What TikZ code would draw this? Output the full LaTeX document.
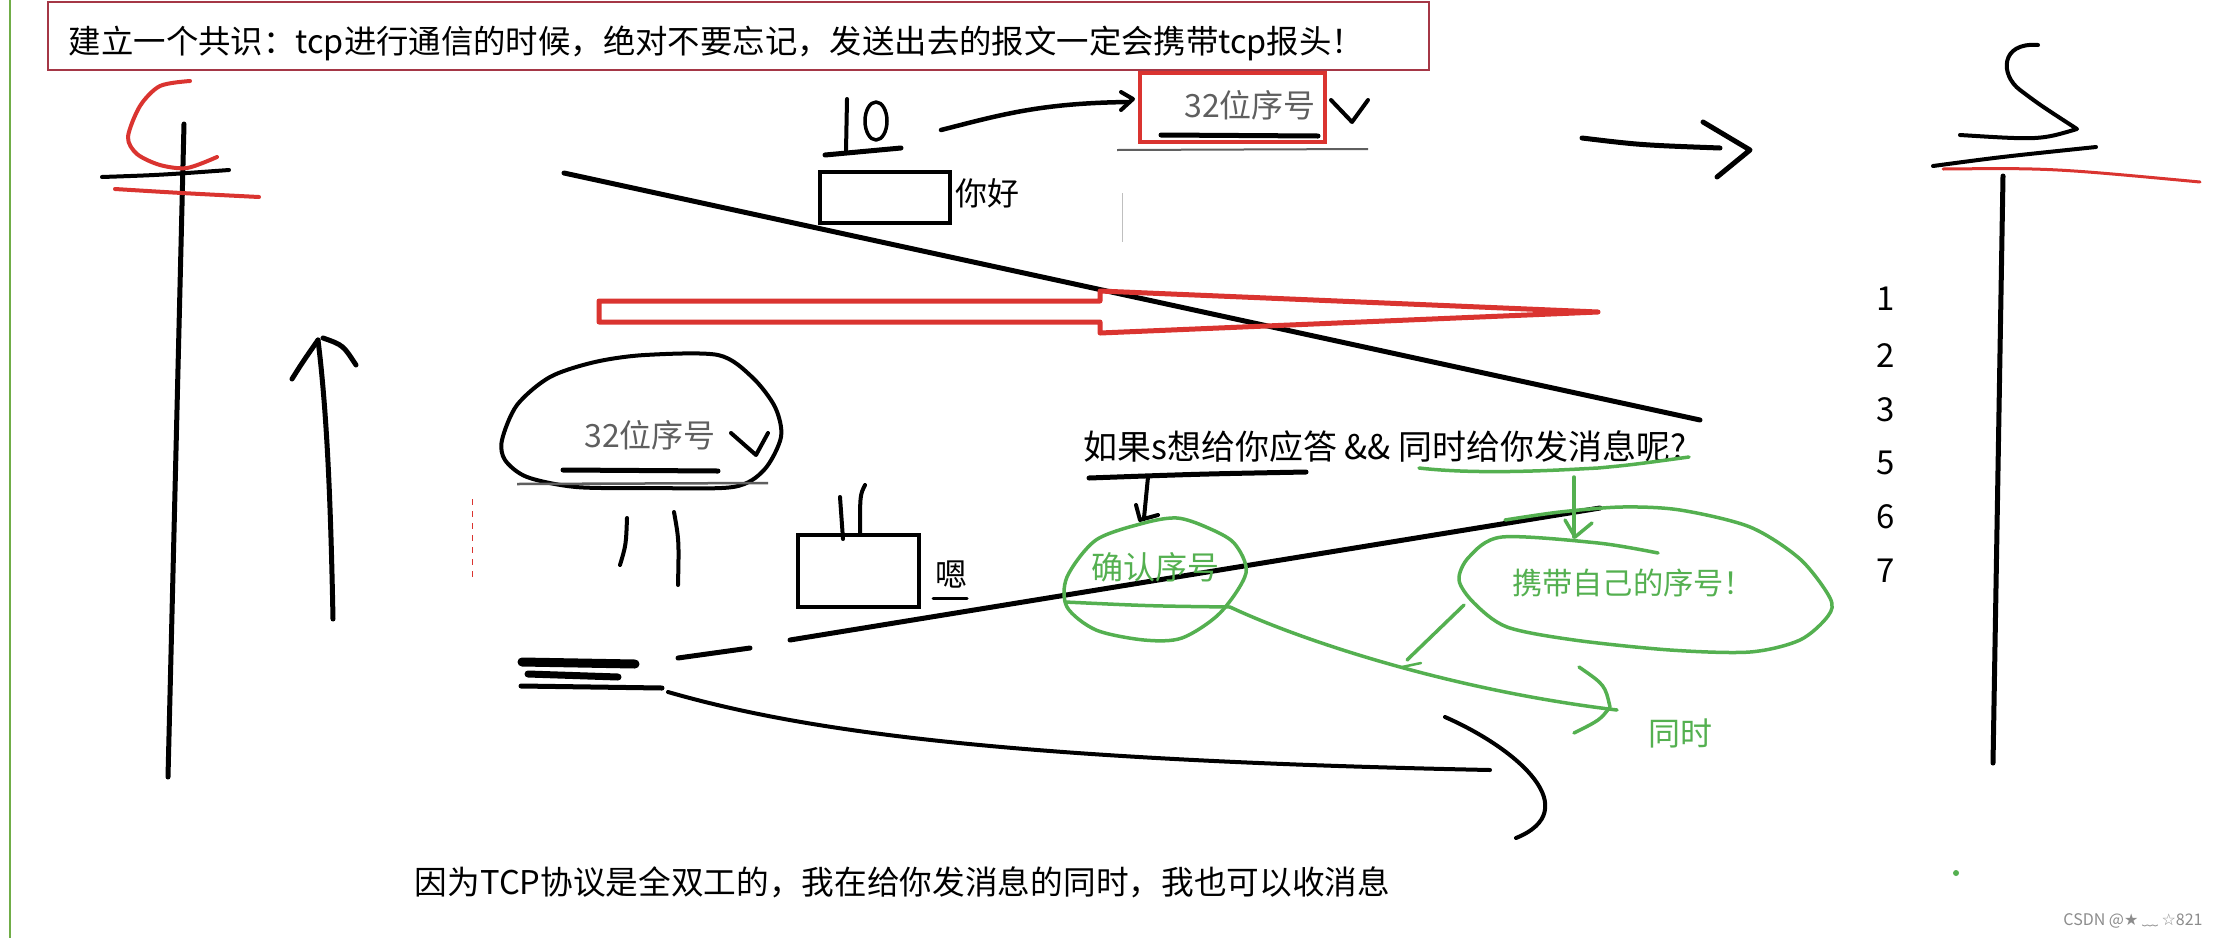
\documentclass[tikz,border=0pt]{standalone}
\usepackage{graphicx}
\usepackage{fontspec}
\setmainfont{Noto Sans CJK SC}
\newfontfamily\djv{DejaVu Sans}
\definecolor{skred}{RGB}{218,52,48}
\definecolor{skgreen}{RGB}{84,176,80}
\definecolor{bordergreen}{RGB}{112,173,71}
\definecolor{bannerred}{RGB}{165,55,70}
\definecolor{shotgray}{RGB}{95,95,95}
\newcommand{\fitw}[2]{\resizebox{#1}{!}{#2}}
\begin{document}
\begin{tikzpicture}[x=1pt,y=-1pt,
  pen/.style={draw=black,line width=5pt,line cap=round,line join=round},
  redpen/.style={draw=skred,line width=4pt,line cap=round,line join=round},
  greenpen/.style={draw=skgreen,line width=3.5pt,line cap=round,line join=round},
  txt/.style={inner sep=0pt,anchor=center,font=\fontsize{32}{38}\selectfont},
  boxpen/.style={draw=black,line width=4.5pt,inner sep=0pt},
]
\fill[white] (0,0) rectangle (2222,938);
\useasboundingbox (0,0) rectangle (2222,938);

% left green border
\draw[draw=bordergreen,line width=2pt] (10,0) -- (10,938);

% banner
\node[draw=bannerred,line width=1.5pt,minimum width=1381pt,minimum height=68pt,inner sep=0pt] (banner) at (738.5,36) {};
\node[txt] (bannertext) at (716.5,43) {\fitw{1295pt}{建立一个共识：tcp进行通信的时候，绝对不要忘记，发送出去的报文一定会携带tcp报头！}};

% left figure
\draw[pen] (184,124) -- (168,777);
\draw[pen,line width=4pt] (102,177) .. controls (160,175) .. (229,170);
\draw[redpen] (115,189) .. controls (180,193) .. (259,197);
\draw[redpen] plot[smooth] coordinates {(190,81) (160,86) (140,106) (128,137) (137,154) (160,165) (187,168) (217,157)};

% up arrow
\draw[pen] (333,619) .. controls (331,520) and (328,420) .. (318,340);
\draw[pen] (292,379) .. controls (302,363) .. (318,340);
\draw[pen] (323,338) .. controls (343,345) .. (356,365);

% upper diagonal
\draw[pen] (564,173) -- (1700,420);

% "10"
\draw[pen,line width=4pt] (847,99) -- (846,151);
\draw[pen,line width=3.5pt] (876,121) ellipse [x radius=11pt,y radius=19pt];
\draw[pen] (825,155) -- (901,148);
\draw[pen,line width=4.5pt] (941,130) .. controls (1000,115) and (1040,103) .. (1129,102);
\draw[pen,line width=4pt] (1121,92) -- (1133,99) -- (1121,110);

% red box with 32位序号
\node[draw=skred,line width=4.5pt,minimum width=185pt,minimum height=69pt,inner sep=0pt] (redbox) at (1232.5,107.5) {};
\node[txt,text=shotgray] (seqa) at (1250,105) {32位序号};
\draw[pen] (1161,135) -- (1318,136);
\draw[pen,line width=4pt] (1331,100) -- (1352,122) -- (1368,100);
\draw[draw=shotgray,line width=2pt] (1117,150) -- (1368,149);
\draw[draw=black!25,line width=1pt] (1122,193) -- (1122,242);

% hello box
\node[boxpen,minimum width=130pt,minimum height=51pt] (hellobox) at (885,197.5) {};
\node[txt] (hello) at (987,193) {你好};

% top right arrow
\draw[pen] (1582,138) .. controls (1640,145) .. (1720,148);
\draw[pen] (1703,122) -- (1750,150) -- (1717,177);

% big red hollow arrow
\draw[redpen,line width=5pt] (599,301) -- (1100,301) -- (1100,291) -- (1598,312) -- (1100,333) -- (1100,322) -- (599,322) -- cycle;
\fill[skred] (1540,308) -- (1598,312) -- (1540,316) -- cycle;

% right figure
\draw[pen,line width=4pt] (2038,45) .. controls (2000,42) and (2000,75) .. (2020,90) .. controls (2040,105) .. (2077,129) .. controls (2040,140) .. (1960,135);
\draw[pen,line width=4pt] (1933,166) .. controls (2000,157) .. (2096,147);
\draw[redpen,line width=3pt] (1943,169) .. controls (2050,168) .. (2200,182);
\draw[pen] (2003,176) -- (1993,763);

% numbers
\node[txt,font=\fontsize{33}{38}\selectfont] (n1) at (1886,299) {1};
\node[txt,font=\fontsize{33}{38}\selectfont] (n2) at (1886,356) {2};
\node[txt,font=\fontsize{33}{38}\selectfont] (n3) at (1886,410) {3};
\node[txt,font=\fontsize{33}{38}\selectfont] (n5) at (1886,463) {5};
\node[txt,font=\fontsize{33}{38}\selectfont] (n6) at (1886,517) {6};
\node[txt,font=\fontsize{33}{38}\selectfont] (n7) at (1886,571) {7};

% blob with 32位序号
\draw[pen,line width=4pt] plot[smooth cycle] coordinates {(502,440) (517,405) (550,377) (595,362) (645,355) (718,355) (752,377) (775,407) (781,437) (764,470) (733,487) (649,488) (576,487) (527,477) (505,460)};
\node[txt,text=shotgray] (seqb) at (650,435) {32位序号};
\draw[pen,line width=4pt] (731,433) -- (756,455) -- (768,433);
\draw[pen] (563,470) -- (718,471);
\draw[draw=shotgray,line width=2.5pt] (517,484) -- (768,483);
\draw[draw=skred,line width=1pt,dash pattern=on 6pt off 6pt] (472,499) -- (472,581);

% strokes
\draw[pen,line width=4pt] (627,518) .. controls (626,545) .. (620,565);
\draw[pen,line width=4pt] (674,512) .. controls (679,540) .. (678,585);

% en box
\node[boxpen,minimum width=121pt,minimum height=72pt] (enbox) at (858.5,571) {};
\draw[pen,line width=4pt] (840,497) -- (843,539);
\draw[pen,line width=4pt] (865,485) .. controls (860,495) .. (860,533);
\node[txt] (en) at (951,575) {嗯};
\draw[pen,line width=3pt] (933,598) -- (967,598);

% scribble
\draw[pen,line width=9pt] (522,662) -- (635,664);
\draw[pen,line width=7pt] (528,674) -- (618,677);
\draw[pen,line width=5pt] (521,686) -- (662,688);

% lower lines
\draw[pen] (678,658) -- (750,648);
\draw[pen] (790,640) -- (1600,508);
\draw[pen,line width=4pt] (668,692) .. controls (800,730) and (1000,760) .. (1490,770);
\draw[pen,line width=4pt] (1445,717) .. controls (1520,750) and (1585,810) .. (1516,838);

% question text
\node[txt] (question) at (1385,447) {\fitw{603pt}{如果s想给你应答 \&\& 同时给你发消息呢?}};
\draw[pen] (1089,478) .. controls (1200,474) .. (1306,472);
\draw[pen,line width=4pt] (1148,477) -- (1144,518);
\draw[pen,line width=4pt] (1136,505) -- (1140,520) -- (1158,515);

% green annotations
\draw[greenpen] (1419,468) .. controls (1480,475) and (1560,470) .. (1598,468) .. controls (1630,465) .. (1689,457);
\draw[greenpen] (1574,477) -- (1574,537);
\draw[greenpen] (1565,520) -- (1575,537) -- (1592,523);
\draw[greenpen] plot[smooth cycle] coordinates {(1177,518) (1144,523) (1096,540) (1067,577) (1067,607) (1096,630) (1144,640) (1182,638) (1220,613) (1246,573) (1234,543) (1206,527)};
\node[txt,text=skgreen] (ack) at (1155,567) {确认序号};
\draw[greenpen] (1065,602) .. controls (1150,606) .. (1230,607) .. controls (1300,640) and (1450,690) .. (1617,710);
\draw[greenpen] (1579,667) .. controls (1605,685) .. (1610,707) .. controls (1600,720) .. (1574,733);
\draw[greenpen] plot[smooth] coordinates {(1658,553) (1598,543) (1502,537) (1469,557) (1459,580) (1474,603) (1507,627) (1574,640) (1670,650) (1750,652) (1800,640) (1828,616) (1830,598) (1800,559) (1750,527) (1680,510) (1622,507) (1560,512) (1505,520)};
\node[txt,text=skgreen] (ownseq) at (1633,583) {\fitw{242pt}{携带自己的序号！}};
\draw[greenpen] (1464,605) -- (1407,660);
\draw[greenpen,line width=2.5pt] (1402,667) -- (1421,663);
\node[txt,text=skgreen] (simul) at (1680,733) {同时};
\fill[skgreen] (1956,873) circle (3pt);

% bottom text
\node[txt] (bottom) at (902.5,882) {\fitw{975pt}{因为TCP协议是全双工的，我在给你发消息的同时，我也可以收消息}};

% watermark
\node[inner sep=0pt,text=black!45,font=\fontsize{16}{18}\selectfont] (wm) at (2133,921) {CSDN @{\djv ★} ﹏ {\djv ☆}821};
\end{tikzpicture}
\end{document}
